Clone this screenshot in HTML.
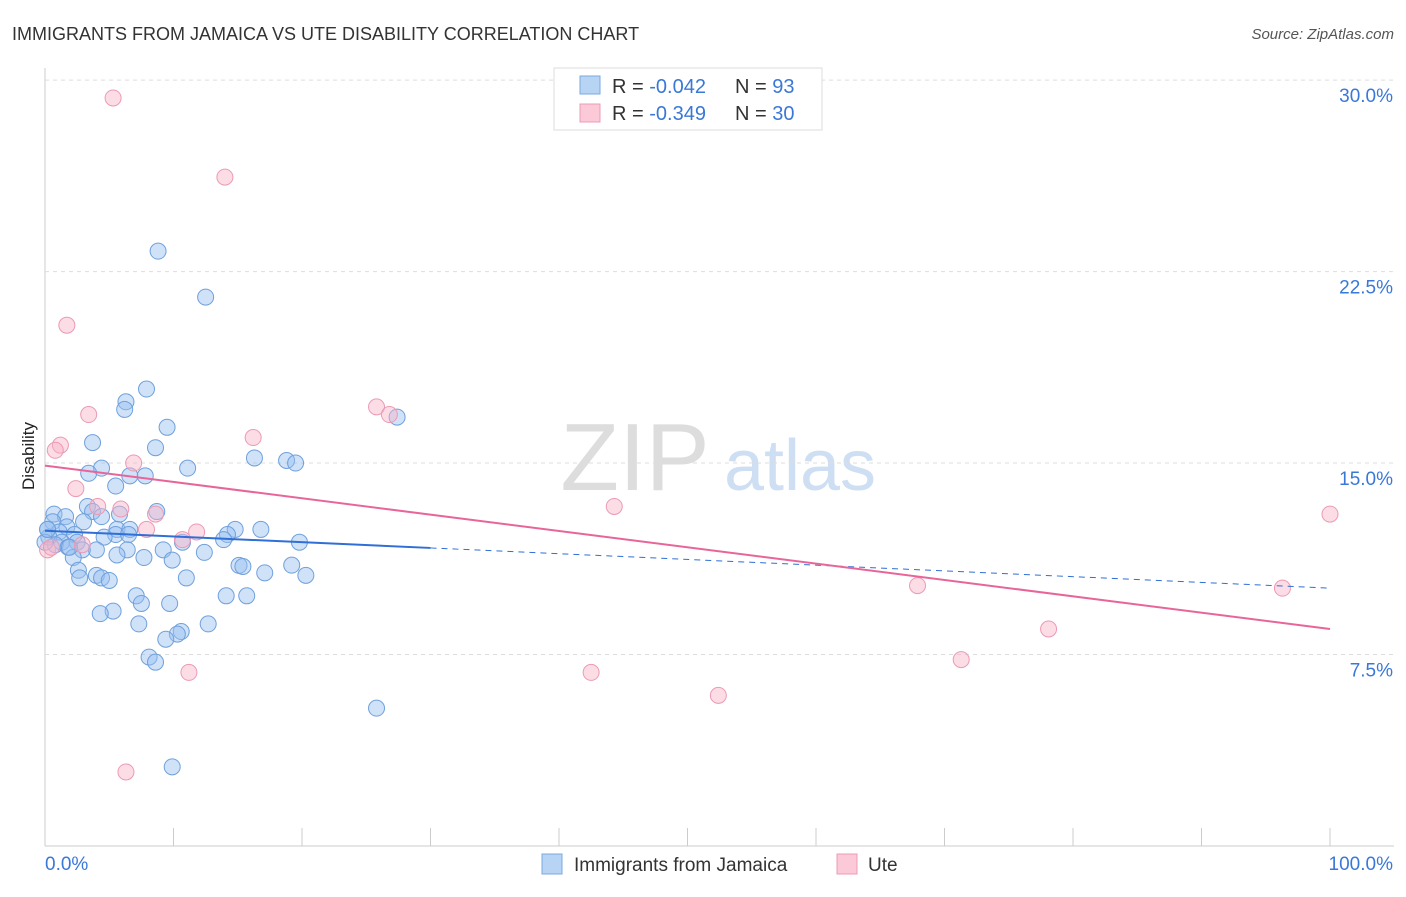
<!DOCTYPE html>
<html><head><meta charset="utf-8"><style>
body{margin:0;background:#fff;font-family:"Liberation Sans",sans-serif;}
svg text{font-family:"Liberation Sans",sans-serif;}
</style></head><body>
<svg id="c" width="1406" height="892">
<text x="12" y="40" font-size="18" fill="#333">IMMIGRANTS FROM JAMAICA VS UTE DISABILITY CORRELATION CHART</text>
<text x="1394" y="39" font-size="15" fill="#555" font-style="italic" text-anchor="end">Source: ZipAtlas.com</text>
<text x="34" y="456" font-size="17" fill="#222" transform="rotate(-90 34 456)" text-anchor="middle">Disability</text>
<g><text x="635" y="490" font-size="96" fill="#ddd" font-family="Liberation Serif" text-anchor="middle">ZIP</text><text x="800" y="490" font-size="72" fill="#cfdff3" text-anchor="middle">atlas</text></g>
<g id="grid"></g><g id="marks"></g>
<g>
<rect x="554" y="68" width="268" height="62" fill="#fff" stroke="#ddd"/>
<rect x="580" y="76" width="20" height="18" fill="#b8d4f5" stroke="#7aa9e0"/>
<rect x="580" y="104" width="20" height="18" fill="#fbc9d8" stroke="#ee9bb5"/>
<text x="612" y="93" font-size="20" fill="#333">R = <tspan fill="#3a78d8">-0.042</tspan></text>
<text x="735" y="93" font-size="20" fill="#333">N = <tspan fill="#3a78d8">93</tspan></text>
<text x="612" y="120" font-size="20" fill="#333">R = <tspan fill="#3a78d8">-0.349</tspan></text>
<text x="735" y="120" font-size="20" fill="#333">N = <tspan fill="#3a78d8">30</tspan></text>
</g>
<g>
<rect x="542" y="854" width="20" height="20" fill="#b8d4f5" stroke="#7aa9e0"/>
<text x="574" y="871" font-size="19" fill="#333">Immigrants from Jamaica</text>
<rect x="837" y="854" width="20" height="20" fill="#fbc9d8" stroke="#ee9bb5"/>
<text x="868" y="871" font-size="19" fill="#333">Ute</text>
</g>
</svg>
<script>
const yTicks=[7.5,15,22.5,30];
const yTickLabels=["7.5%","15.0%","22.5%","30.0%"];
const xTickLabels=["0.0%","100.0%"];
const blueX=[8.8,12.5,7.9,6.3,6.2,9.5,3.7,8.6,16.3,18.8,19.5,11.1,4.4,3.4,6.6,7.8,5.5,3.3,8.7,3.7,5.8,4.4,0.7,1.6,0.6,3.0,1.7,0.2,5.6,6.6,16.8,14.8,14.2,1.1,2.3,5.5,0.3,4.6,6.5,13.9,10.7,19.8,1.3,2.5,0.8,1.8,4.0,2.9,9.2,6.4,12.4,5.6,7.7,2.2,9.9,15.1,15.4,19.2,2.6,17.1,4.0,20.3,4.4,2.7,11.0,5.0,7.1,15.7,14.1,7.5,9.7,5.3,4.3,12.7,7.3,10.6,10.3,9.4,8.1,8.6,25.8,9.9,27.4,0.0,0.2,1.9];
const blueY=[23.3,21.5,17.9,17.4,17.1,16.4,15.8,15.6,15.2,15.1,15.0,14.8,14.8,14.6,14.5,14.5,14.1,13.3,13.1,13.1,13.0,12.9,13.0,12.9,12.7,12.7,12.5,12.4,12.4,12.4,12.4,12.4,12.2,12.3,12.2,12.2,12.1,12.1,12.2,12.0,11.9,11.9,11.9,11.9,11.8,11.7,11.6,11.6,11.6,11.6,11.5,11.4,11.3,11.3,11.2,10.99,10.95,11.0,10.8,10.7,10.6,10.6,10.5,10.5,10.5,10.4,9.8,9.8,9.8,9.5,9.5,9.2,9.1,8.7,8.7,8.4,8.3,8.1,7.4,7.2,5.4,3.1,16.8,11.9,12.4,11.7];
const pinkX=[5.3,14.0,1.7,25.8,26.8,3.4,1.2,0.8,16.2,6.9,2.4,4.1,5.9,8.6,7.9,11.8,10.7,44.3,100,2.9,0.2,67.9,96.3,78.1,71.3,42.5,11.2,52.4,6.3,0.5];
const pinkY=[29.3,26.2,20.4,17.2,16.9,16.9,15.7,15.5,16.0,15.0,14.0,13.3,13.2,13.0,12.4,12.3,12.0,13.3,13.0,11.8,11.6,10.2,10.1,8.5,7.3,6.8,6.8,5.9,2.9,11.7];
const blueTrend=[12.35,10.1];
const pinkTrend=[14.9,8.5];
const X=v=>45+v*12.85, Y=v=>846-v*25.53;
const NS="http://www.w3.org/2000/svg";
const grid=document.getElementById('grid'), marks=document.getElementById('marks');
function el(t,a,p){const e=document.createElementNS(NS,t);for(const k in a)e.setAttribute(k,a[k]);p.appendChild(e);return e;}
const ax=el('line',{x1:45,y1:68,x2:45,y2:846,stroke:'#ccc'},grid);


const bx=el('line',{x1:45,y1:846,x2:1394,y2:846,stroke:'#ccc'},grid);


yTicks.forEach((t,i)=>{
 const g=el('line',{x1:45,x2:1394,y1:Y(t),y2:Y(t),stroke:'#ddd','stroke-dasharray':'4,4'},grid);
 
 
 const tx=el('text',{x:1393,y:Y(t)+22,'font-size':19,fill:'#3a78d8','text-anchor':'end'},grid);
 tx.textContent=yTickLabels[i];
 
 
});
for(let i=1;i<=10;i++){const t=el('line',{x1:45+i*128.5,x2:45+i*128.5,y1:828,y2:846,stroke:'#ccc'},grid);
 
 }
[[0,45,'start'],[1,1393,'end']].forEach(([i,x,a])=>{const t=el('text',{x:x,y:870,'font-size':19,fill:'#3a78d8','text-anchor':a},grid);t.textContent=xTickLabels[i];
 
 });
blueX.forEach((v,i)=>{const c=el('circle',{cx:X(v),cy:Y(blueY[i]),r:8,fill:'rgba(150,190,240,0.45)',stroke:'#6fa0dd','stroke-width':1},marks);
 
 });
pinkX.forEach((v,i)=>{const c=el('circle',{cx:X(v),cy:Y(pinkY[i]),r:8,fill:'rgba(248,180,200,0.45)',stroke:'#ec9ab4','stroke-width':1},marks);
 
 });
const bt=x=>blueTrend[0]+(blueTrend[1]-blueTrend[0])*x/100;
const l1=el('line',{x1:X(0),y1:Y(bt(0)),x2:X(30),y2:Y(bt(30)),stroke:'#2f6fd6','stroke-width':2},marks);


const l2=el('line',{x1:X(30),y1:Y(bt(30)),x2:X(100),y2:Y(bt(100)),stroke:'#2f6fd6','stroke-width':1,'stroke-dasharray':'6,5'},marks);


const l3=el('line',{x1:X(0),y1:Y(pinkTrend[0]),x2:X(100),y2:Y(pinkTrend[1]),stroke:'#e8659a','stroke-width':2},marks);


</script>
</body></html>
